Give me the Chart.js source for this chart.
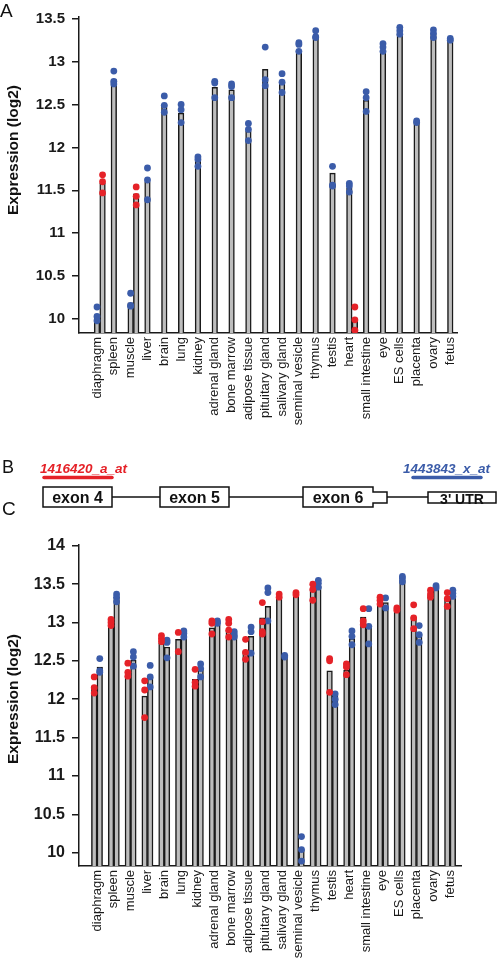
<!DOCTYPE html>
<html>
<head>
<meta charset="utf-8">
<script src="https://cdn.jsdelivr.net/npm/chart.js@4.4.0/dist/chart.umd.min.js"></script>
<style>
  html, body { margin: 0; padding: 0; background: #fff; }
  #page { position: relative; width: 498px; height: 965px; overflow: hidden; }
  canvas { position: absolute; left: 0; }
  #chartA { top: 0; }
  #chartC { top: 520px; }
  svg { position: absolute; left: 0; top: 0; }
</style>
</head>
<body>
<div id="page">
  <canvas id="chartA" width="498" height="445"></canvas>
  <canvas id="chartC" width="498" height="445"></canvas>
  <svg width="498" height="965" viewBox="0 0 498 965" font-family="'Liberation Sans', Arial, sans-serif">
    <text x="0" y="17" font-size="19" fill="#111">A</text>
    <text x="2" y="473" font-size="18" fill="#111">B</text>
    <text x="2" y="515" font-size="19" fill="#111">C</text>

    <!-- y axis titles, placed where the figure has them -->
    <text transform="translate(17.5,150) rotate(-90)" text-anchor="middle" font-size="15.5" font-weight="bold" fill="#111">Expression (log2)</text>
    <text transform="translate(17.5,699) rotate(-90)" text-anchor="middle" font-size="15.5" font-weight="bold" fill="#111">Expression (log2)</text>

    <text x="40" y="473" font-size="13.5" font-weight="bold" font-style="italic" fill="#e52228">1416420_a_at</text>
    <line x1="44" y1="477.5" x2="112" y2="477.5" stroke="#e52228" stroke-width="3.5" stroke-linecap="round"/>
    <text x="403" y="473" font-size="13.5" font-weight="bold" font-style="italic" fill="#3b5ca9">1443843_x_at</text>
    <line x1="413" y1="477.5" x2="481" y2="477.5" stroke="#3b5ca9" stroke-width="3.5" stroke-linecap="round"/>

    <g stroke="#111" stroke-width="1.5" fill="#fff">
      <line x1="112" y1="497" x2="160" y2="497"/>
      <line x1="229" y1="497" x2="303" y2="497"/>
      <line x1="387" y1="497" x2="428" y2="497"/>
      <rect x="43" y="487" width="69" height="20"/>
      <rect x="160" y="487" width="69" height="20"/>
      <polygon points="303,487 373,487 373,492 387,492 387,503 373,503 373,507 303,507"/>
      <rect x="428" y="492" width="68" height="11"/>
    </g>
    <g font-weight="bold" font-size="16" text-anchor="middle" fill="#111">
      <text x="77.5" y="503">exon 4</text>
      <text x="194.5" y="503">exon 5</text>
      <text x="338" y="503">exon 6</text>
      <text x="462" y="504" font-size="14">3' UTR</text>
    </g>
  </svg>
</div>

<script>
const tissues = ['diaphragm', 'spleen', 'muscle', 'liver', 'brain', 'lung', 'kidney',
  'adrenal gland', 'bone marrow', 'adipose tissue', 'pituitary gland', 'salivary gland',
  'seminal vesicle', 'thymus', 'testis', 'heart', 'small intestine', 'eye', 'ES cells',
  'placenta', 'ovary', 'fetus'];

// panel A, blue probe: bar heights and single replicates
const aBlueMean = [10.05, 12.79, 10.19, 11.60, 12.50, 12.40, 11.84, 12.70, 12.67, 12.19, 12.91,
  12.76, 13.13, 13.28, 11.70, 11.53, 12.55, 13.11, 13.32, 12.29, 13.32, 13.25];
const aBlueReps = [[10.14, 10.03, 9.98], [12.89, 12.77, 12.74], [10.30, 10.16, 10.15],
  [11.76, 11.62, 11.39], [12.60, 12.49, 12.41], [12.50, 12.44, 12.29], [11.89, 11.86, 11.78],
  [12.77, 12.75, 12.58], [12.74, 12.71, 12.58], [12.28, 12.21, 12.08], [13.17, 12.79, 12.72],
  [12.86, 12.76, 12.64], [13.22, 13.20, 13.12], [13.36, 13.29, 13.28], [11.78, 11.56, 11.55],
  [11.58, 11.55, 11.48], [12.65, 12.58, 12.42], [13.21, 13.17, 13.12], [13.40, 13.36, 13.32],
  [12.31, 12.29], [13.37, 13.33, 13.28], [13.27, 13.25]];

// panel A, red probe: only three tissues
const aRedTissues = ['diaphragm', 'muscle', 'heart'];
const aRedMean = [11.58, 11.46, 10.00];
const aRedReps = [[11.68, 11.60, 11.47], [11.54, 11.43, 11.33], [10.14, 9.99, 9.87]];

const aTicks = [10, 10.5, 11, 11.5, 12, 12.5, 13, 13.5];

// panel C, 1416420_a_at (red) and 1443843_x_at (blue)
const cRedMean = [12.17, 12.99, 12.30, 12.04, 12.73, 12.78, 12.26, 12.93, 12.90, 12.63, 13.06,
  13.34, 13.36, 13.43, 12.37, 12.38, 13.07, 13.32, 13.14, 13.07, 13.36, 13.31];
const cRedReps = [[12.29, 12.15, 12.08], [13.04, 13.00, 12.96], [12.47, 12.35, 12.30],
  [12.24, 12.12, 11.76], [12.83, 12.79, 12.75], [12.87, 12.62], [12.39, 12.22, 12.17],
  [13.02, 12.99, 12.85], [13.04, 12.99, 12.90, 12.81], [12.78, 12.61, 12.52],
  [13.26, 13.01, 12.88, 12.85], [13.37, 13.33], [13.39, 13.36], [13.50, 13.43, 13.29],
  [12.53, 12.50, 12.09], [12.46, 12.42, 12.32], [13.18, 13.02, 12.97], [13.33, 13.29, 13.24],
  [13.19, 13.16], [13.23, 13.06, 12.92], [13.42, 13.37, 13.33], [13.39, 13.31, 13.21]];

const cBlueMean = [12.42, 13.33, 12.51, 12.29, 12.68, 12.85, 12.40, 12.97, 12.84, 12.82, 13.21,
  12.56, 10.03, 13.47, 12.05, 12.79, 12.94, 13.26, 13.55, 12.85, 13.43, 13.36];
const cBlueReps = [[12.53, 12.37, 12.35], [13.37, 13.33, 13.27], [12.62, 12.55, 12.43],
  [12.44, 12.29, 12.16], [12.77, 12.74, 12.54], [12.89, 12.86, 12.81], [12.46, 12.40, 12.29],
  [13.02, 12.99], [12.88, 12.84, 12.81], [12.94, 12.88, 12.60], [13.45, 13.39, 13.02],
  [12.57, 12.55], [10.21, 10.04, 9.89], [13.55, 13.51, 13.46], [12.07, 12.00, 11.93],
  [12.89, 12.82, 12.71], [13.18, 12.95, 12.72], [13.32, 13.19], [13.60, 13.57, 13.53],
  [12.96, 12.84, 12.74], [13.48, 13.45], [13.42, 13.38, 13.34]];

const cTicks = [10, 10.5, 11, 11.5, 12, 12.5, 13, 13.5, 14];

const BLUE = '#3b5ca9';
const RED = '#e52228';
const BAR = '#bdbdbd';
const INK = '#1a1a1a';

Chart.defaults.font.family = "'Liberation Sans', Arial, sans-serif";
Chart.defaults.color = INK;

function barSet(xs, ys, base) {
  return {
    type: 'bar', order: 2, grouped: false, base: base,
    data: xs.map((x, i) => ({ x: x, y: ys[i] })),
    backgroundColor: BAR, borderColor: INK, borderWidth: 1.5,
    barThickness: 5.6, maxBarThickness: 5.6
  };
}

function dotSet(xs, reps, color) {
  let pts = [];
  xs.forEach((x, i) => reps[i].forEach(v => pts.push({ x: x, y: v })));
  return {
    type: 'scatter', order: 1, data: pts,
    pointRadius: 3.4, pointBorderWidth: 0, pointBackgroundColor: color
  };
}

function buildChart(id, cfg) {
  return new Chart(document.getElementById(id), {
    type: 'bar',
    data: { datasets: cfg.datasets },
    options: {
      responsive: false, animation: false, events: [],
      layout: { padding: { top: cfg.top, right: cfg.right, left: 0, bottom: 0 } },
      plugins: { legend: { display: false }, tooltip: { enabled: false } },
      scales: {
        x: {
          type: 'linear', offset: false, min: cfg.xMin, max: cfg.xMax,
          afterBuildTicks: s => { s.ticks = tissues.map((t, i) => ({ value: i })); },
          afterFit: s => { s.height = cfg.xHeight; },
          grid: { display: false, drawTicks: false },
          border: { display: true, color: INK, width: 1.5 },
          ticks: {
            autoSkip: false, minRotation: 90, maxRotation: 90, padding: 4,
            font: { size: 13 }, color: INK,
            callback: v => tissues[Math.round(v)]
          }
        },
        y: {
          beginAtZero: false, min: cfg.yMin, max: cfg.yMax,
          afterBuildTicks: s => { s.ticks = cfg.yTicks.map(v => ({ value: v })); },
          afterFit: s => { s.width = 79; },
          grid: { drawOnChartArea: false, drawTicks: true, tickLength: 7, color: INK, lineWidth: 1.5 },
          border: { display: true, color: INK, width: 1.5 },
          ticks: { padding: 7, font: { size: cfg.tickSize, weight: 'bold' }, color: INK, callback: v => String(v) }
        }
      }
    }
  });
}

// panel A
const aX = tissues.map((t, i) => i);
const aRedX = aRedTissues.map(t => tissues.indexOf(t) + 0.33);
const aMin = 9.837;
buildChart('chartA', {
  top: 17, right: 41, xHeight: 112, xMin: -1.07, xMax: 21.4,
  yMin: aMin, yMax: 13.52, yTicks: aTicks, tickSize: 15,
  datasets: [
    barSet(aX, aBlueMean, aMin),
    barSet(aRedX, aRedMean, aMin),
    dotSet(aX, aBlueReps, BLUE),
    dotSet(aRedX, aRedReps, RED)
  ]
});

// panel C
const cRedX = tissues.map((t, i) => i - 0.165);
const cBlueX = tissues.map((t, i) => i + 0.165);
const cMin = 9.826;
buildChart('chartC', {
  top: 25, right: 37, xHeight: 99, xMin: -1.07, xMax: 21.65,
  yMin: cMin, yMax: 14.01, yTicks: cTicks, tickSize: 16,
  datasets: [
    barSet(cRedX, cRedMean, cMin),
    barSet(cBlueX, cBlueMean, cMin),
    dotSet(cRedX, cRedReps, RED),
    dotSet(cBlueX, cBlueReps, BLUE)
  ]
});
</script>
</body>
</html>
